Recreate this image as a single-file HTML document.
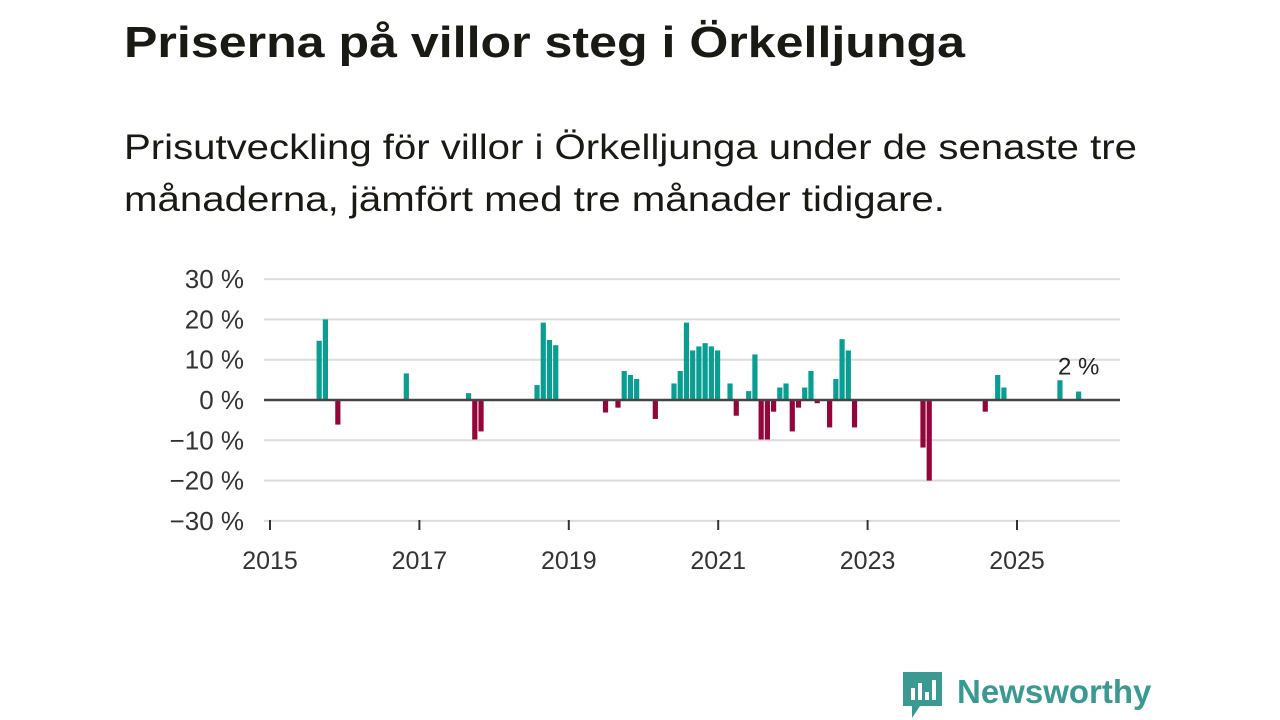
<!DOCTYPE html>
<html><head><meta charset="utf-8"><style>
html,body{margin:0;padding:0;background:#fff;width:1280px;height:720px;overflow:hidden;font-family:"Liberation Sans",sans-serif;}
</style></head><body>
<svg id="chart" width="1280" height="720" xmlns="http://www.w3.org/2000/svg" style="font-family:'Liberation Sans',sans-serif">
<text x="124" y="57" font-size="44" font-weight="bold" fill="#1a1a14" textLength="841" lengthAdjust="spacingAndGlyphs">Priserna på villor steg i Örkelljunga</text>
<text x="124" y="159" font-size="35" fill="#1a1a14" textLength="1013" lengthAdjust="spacingAndGlyphs">Prisutveckling för villor i Örkelljunga under de senaste tre</text>
<text x="124" y="211" font-size="35" fill="#1a1a14" textLength="821" lengthAdjust="spacingAndGlyphs">månaderna, jämfört med tre månader tidigare.</text>
<g id="grid"></g>
<g id="yaxis"></g>
<g id="xaxis"></g>
<g id="bars"></g>
<line x1="264" x2="1120" y1="400" y2="400" stroke="#444" stroke-width="2.5"/>
<text id="lastlabel" font-size="24" fill="#222" text-anchor="middle">2 %</text>
<g>
<path d="M903 672 h39 v34 h-22 l-8 12 v-12 h-9 z" fill="#3a9a92"/>
<rect x="911" y="688" width="4" height="12" fill="#fff"/><rect x="918" y="683" width="4" height="17" fill="#fff"/><rect x="925" y="692" width="4" height="8" fill="#fff"/><rect x="932" y="680" width="4" height="20" fill="#fff"/>
<text x="957" y="703" font-size="33" font-weight="bold" fill="#3a9a92">Newsworthy</text>
</g>
</svg>
<script>
// months since Jan 2015
const months=[8,9,11,22,32,33,34,43,44,45,46,54,56,57,58,59,62,65,66,67,68,69,70,71,72,74,75,77,78,79,80,81,82,83,84,85,86,87,88,90,91,92,93,94,105,106,115,117,118,127,130];
const values=[14.7,20,-6.1,6.6,1.7,-9.8,-7.8,3.7,19.2,14.9,13.6,-3.1,-1.9,7.2,6.2,5.2,-4.7,4.1,7.2,19.2,12.3,13.3,14.1,13.3,12.3,4.1,-3.9,2.2,11.3,-9.8,-9.8,-2.9,3.1,4.1,-7.8,-1.9,3.1,7.2,-0.8,-6.8,5.2,15.1,12.3,-6.8,-11.8,-20,-2.9,6.2,3.1,4.9,2.1];
const yTicks=[30,20,10,0,-10,-20,-30];
const yTickLabels=["30 %","20 %","10 %","0 %","−10 %","−20 %","−30 %"];
const xTicks=[2015,2017,2019,2021,2023,2025];
const lastLabel="2 %";
const NS="http://www.w3.org/2000/svg";
const X=yr=>270+(yr-2015)*74.7;
const XM=m=>X(2015+(m-0.1)/12);
const Y=v=>400-v*4.03;
function el(t,a,p){const e=document.createElementNS(NS,t);for(const k in a)e.setAttribute(k,a[k]);p.appendChild(e);return e;}
const grid=document.getElementById('grid'),ya=document.getElementById('yaxis'),xa=document.getElementById('xaxis'),bars=document.getElementById('bars');
yTicks.forEach((v,i)=>{
 if(v!==0){const g=el('line',{x1:264,x2:1120,y1:Y(v),y2:Y(v),stroke:'#dcdcdc','stroke-width':2},grid);
 
 }
 const t=el('text',{x:244,y:Y(v)+9,'font-size':26,'text-anchor':'end',fill:'#333'},ya);t.textContent=yTickLabels[i];
 
 
});
xTicks.forEach(yr=>{
 const l=el('line',{x1:X(yr),x2:X(yr),y1:520,y2:530,stroke:'#333','stroke-width':2},xa);
 
 
 const t=el('text',{x:X(yr),y:569,'font-size':25,'text-anchor':'middle',fill:'#333'},xa);t.textContent=yr;
 
 
});
months.forEach((m,i)=>{
 const v=values[i],cx=XM(m);
 const r=el('rect',{x:cx-2.6,width:5.2,y:Math.min(Y(v),400),height:Math.abs(Y(v)-400),fill:v>=0?'#0a9e92':'#93063b'},bars);
 
 
});
const lm=months[months.length-1],lv=values[values.length-1];
const lt=document.getElementById('lastlabel');
lt.setAttribute('x',XM(lm));lt.setAttribute('y',Y(lv)-17);lt.textContent=lastLabel;
</script>
</body></html>
